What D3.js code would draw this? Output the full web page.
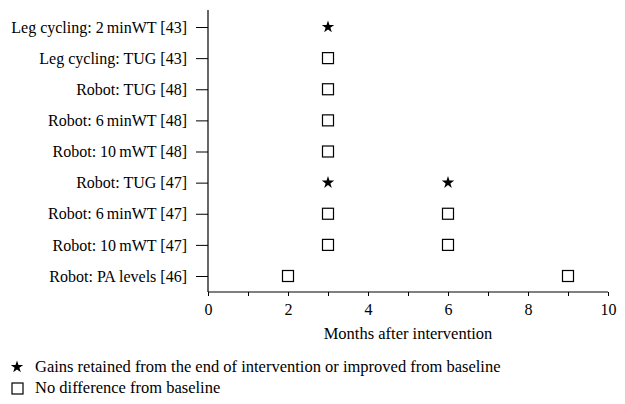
<!DOCTYPE html>
<html><head><meta charset="utf-8">
<script src="https://cdn.jsdelivr.net/npm/d3@7"></script>
<style>body{margin:0;background:#fff}svg{display:block}text{font-family:"Liberation Serif","DejaVu Serif",serif;fill:#000}</style>
</head><body><svg id="c" width="625" height="404"></svg>
<script>
const categories = ["Leg cycling: 2\u2009minWT [43]","Leg cycling: TUG [43]","Robot: TUG [48]","Robot: 6\u2009minWT [48]","Robot: 10\u2009mWT [48]","Robot: TUG [47]","Robot: 6\u2009minWT [47]","Robot: 10\u2009mWT [47]","Robot: PA levels [46]"];
// gains retained (stars)
const starPoints = [
  {cat:"Leg cycling: 2\u2009minWT [43]", month:3},
  {cat:"Robot: TUG [47]", month:3},
  {cat:"Robot: TUG [47]", month:6}
];
// no difference (squares)
const squarePoints = [
  {cat:"Leg cycling: TUG [43]", month:3},
  {cat:"Robot: TUG [48]", month:3},
  {cat:"Robot: 6\u2009minWT [48]", month:3},
  {cat:"Robot: 10\u2009mWT [48]", month:3},
  {cat:"Robot: 6\u2009minWT [47]", month:3},
  {cat:"Robot: 6\u2009minWT [47]", month:6},
  {cat:"Robot: 10\u2009mWT [47]", month:3},
  {cat:"Robot: 10\u2009mWT [47]", month:6},
  {cat:"Robot: PA levels [46]", month:2},
  {cat:"Robot: PA levels [46]", month:9}
];
const xTicks = [0,1,2,3,4,5,6,7,8,9,10];
const xLabels = [0,2,4,6,8,10];
const legendItems = ["Gains retained from the end of intervention or improved from baseline","No difference from baseline"];

const svg = d3.select("#c");
const x = d3.scaleLinear().domain([0,10]).range([208,608]);
const y = d3.scalePoint().domain(categories).range([27,276]);

const gx = svg.append("g").attr("transform","translate(0,292)")
  .call(d3.axisBottom(x).tickValues(xTicks).tickSize(4).tickPadding(8)
    .tickFormat(d => xLabels.includes(d) ? d : ""));
gx.attr("font-size",16).attr("font-family","'Liberation Serif',serif");
gx.select(".domain").attr("d","M208,0H608").attr("stroke","#000").attr("stroke-width",1.2);
gx.selectAll(".tick line").attr("stroke","#000").attr("stroke-width",1);

const gy = svg.append("g").attr("transform","translate(208,0)")
  .call(d3.axisLeft(y).tickSize(12).tickPadding(9));
gy.attr("font-size",16).attr("font-family","'Liberation Serif',serif");
gy.select(".domain").attr("d","M0,10V292").attr("stroke","#000").attr("stroke-width",1.2);
gy.selectAll(".tick line").attr("stroke","#000").attr("stroke-width",1);

svg.append("text").attr("x",408).attr("y",339).attr("text-anchor","middle")
  .attr("font-size",16.5).text("Months after intervention");

const star = d3.symbol().type(d3.symbolStar).size(48);
svg.selectAll("path.star").data(starPoints).join("path").attr("class","star")
  .attr("d",star).attr("fill","#000")
  .attr("transform",d=>`translate(${x(d.month)},${y(d.cat)})`);
svg.selectAll("rect.sq").data(squarePoints).join("rect").attr("class","sq")
  .attr("x",d=>x(d.month)-5.5).attr("y",d=>y(d.cat)-5.5).attr("width",11).attr("height",11)
  .attr("fill","#fff").attr("stroke","#000").attr("stroke-width",1.2);

// legend
const lg = svg.append("g");
lg.append("path").attr("d",star).attr("fill","#000").attr("transform","translate(17,367)");
lg.append("rect").attr("x",12).attr("y",383).attr("width",11).attr("height",11).attr("fill","#fff").attr("stroke","#000").attr("stroke-width",1.2);
lg.selectAll("text").data(legendItems).join("text").attr("x",35).attr("y",(d,i)=>372+i*20.5)
  .attr("font-size",16.5).text(d=>d);
</script></body></html>
